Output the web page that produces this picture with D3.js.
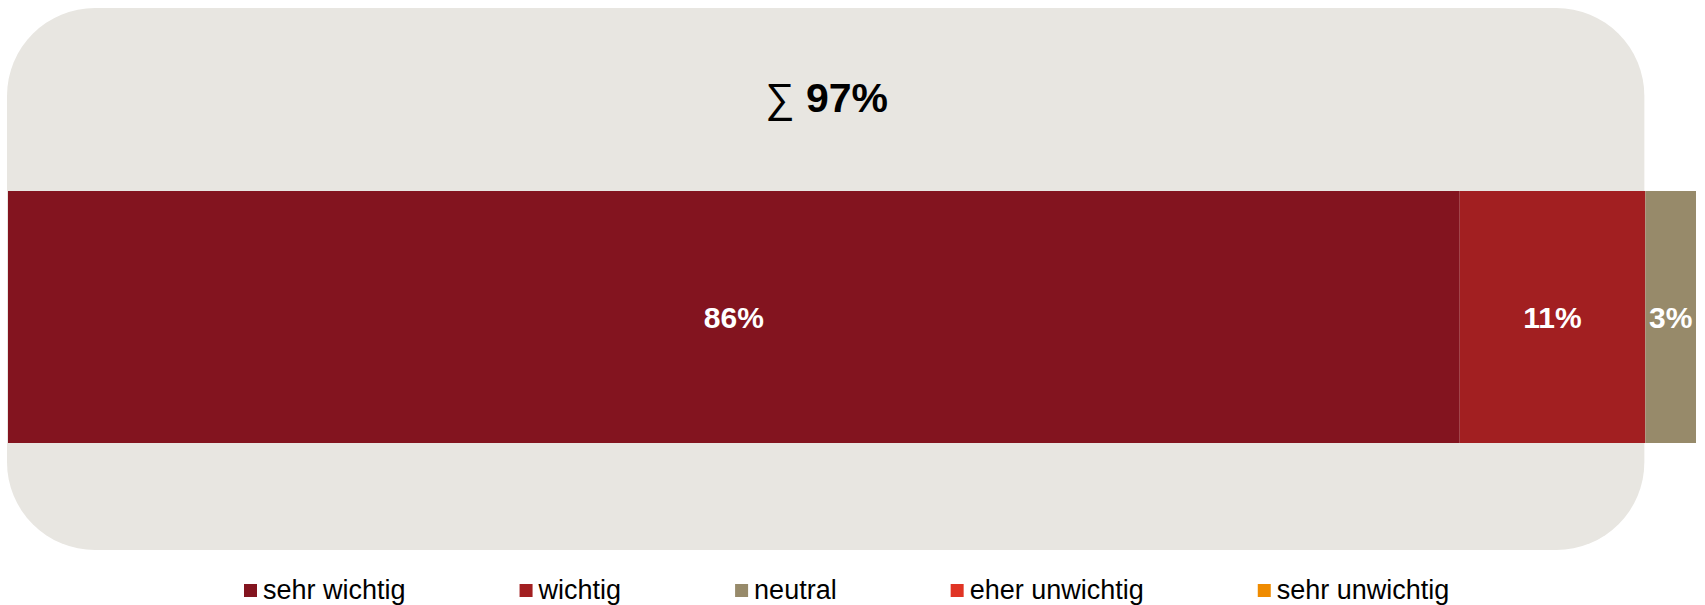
<!DOCTYPE html>
<html lang="de">
<head>
  <meta charset="UTF-8">
  <title>Wichtigkeit</title>
  <script src="https://d3js.org/d3.v7.min.js"></script>
  <style>
    body { margin: 0; background: #fff; }
    svg { display: block; }
    text { font-family: "Liberation Sans", Arial, sans-serif; }
  </style>
</head>
<body>
  <svg id="chart"></svg>

  <script>
    const categories = ["sehr wichtig", "wichtig", "neutral", "eher unwichtig", "sehr unwichtig"];
    const values = [86, 11, 3, 0, 0];
    const colors = ["#83141f", "#a21f21", "#978a6a", "#e03424", "#ef8b00"];
    const topBoxShare = values[0] + values[1]; // sehr wichtig + wichtig

    const width = 1705, height = 605;
    const svg = d3.select("#chart").attr("width", width).attr("height", height);

    const x = d3.scaleLinear().domain([0, 100]).range([8, 1696]);
    const y = d3.scaleBand().domain(["Frage"]).range([191, 443]).padding(0);

    // stacked segments
    let acc = 0;
    const segs = categories.map((c, i) => {
      const s = { cat: c, value: values[i], color: colors[i], x0: acc, x1: acc + values[i] };
      acc += values[i];
      return s;
    });

    // rounded background showing top-2 sum
    svg.append("rect")
      .attr("x", x(0) - 1)
      .attr("y", 8)
      .attr("width", x(topBoxShare) - x(0))
      .attr("height", 542)
      .attr("rx", 88).attr("ry", 88)
      .attr("fill", "#e8e6e1");

    const sumText = svg.append("text")
      .attr("x", (x(0) + x(topBoxShare)) / 2)
      .attr("y", 112)
      .attr("text-anchor", "middle")
      .attr("font-size", 41)
      .attr("fill", "#000");
    sumText.append("tspan").attr("font-weight", "normal").text("\u2211 ");
    sumText.append("tspan").attr("font-weight", "bold").text(topBoxShare + "%");

    svg.append("g").selectAll("rect")
      .data(segs.filter(d => d.value > 0))
      .join("rect")
      .attr("x", d => x(d.x0))
      .attr("y", y("Frage"))
      .attr("width", d => x(d.x1) - x(d.x0))
      .attr("height", y.bandwidth())
      .attr("fill", d => d.color);

    svg.append("g").selectAll("text")
      .data(segs.filter(d => d.value > 0))
      .join("text")
      .attr("x", d => (x(d.x0) + x(d.x1)) / 2)
      .attr("y", y("Frage") + y.bandwidth() / 2 + 11)
      .attr("text-anchor", "middle")
      .attr("font-size", 30)
      .attr("font-weight", "bold")
      .attr("fill", "#fff")
      .text(d => d.value + "%");

    // legend
    const legend = svg.append("g");
    let lx = 244;
    categories.forEach((c, i) => {
      const g = legend.append("g").attr("transform", `translate(${lx},0)`);
      g.append("rect").attr("x", 0).attr("y", 584).attr("width", 13).attr("height", 13).attr("fill", colors[i]);
      const t = g.append("text").attr("x", 19).attr("y", 599)
        .attr("font-size", 27).attr("fill", "#000").text(c);
      lx += 19 + t.node().getComputedTextLength() + 114;
    });
  </script>
</body>
</html>
